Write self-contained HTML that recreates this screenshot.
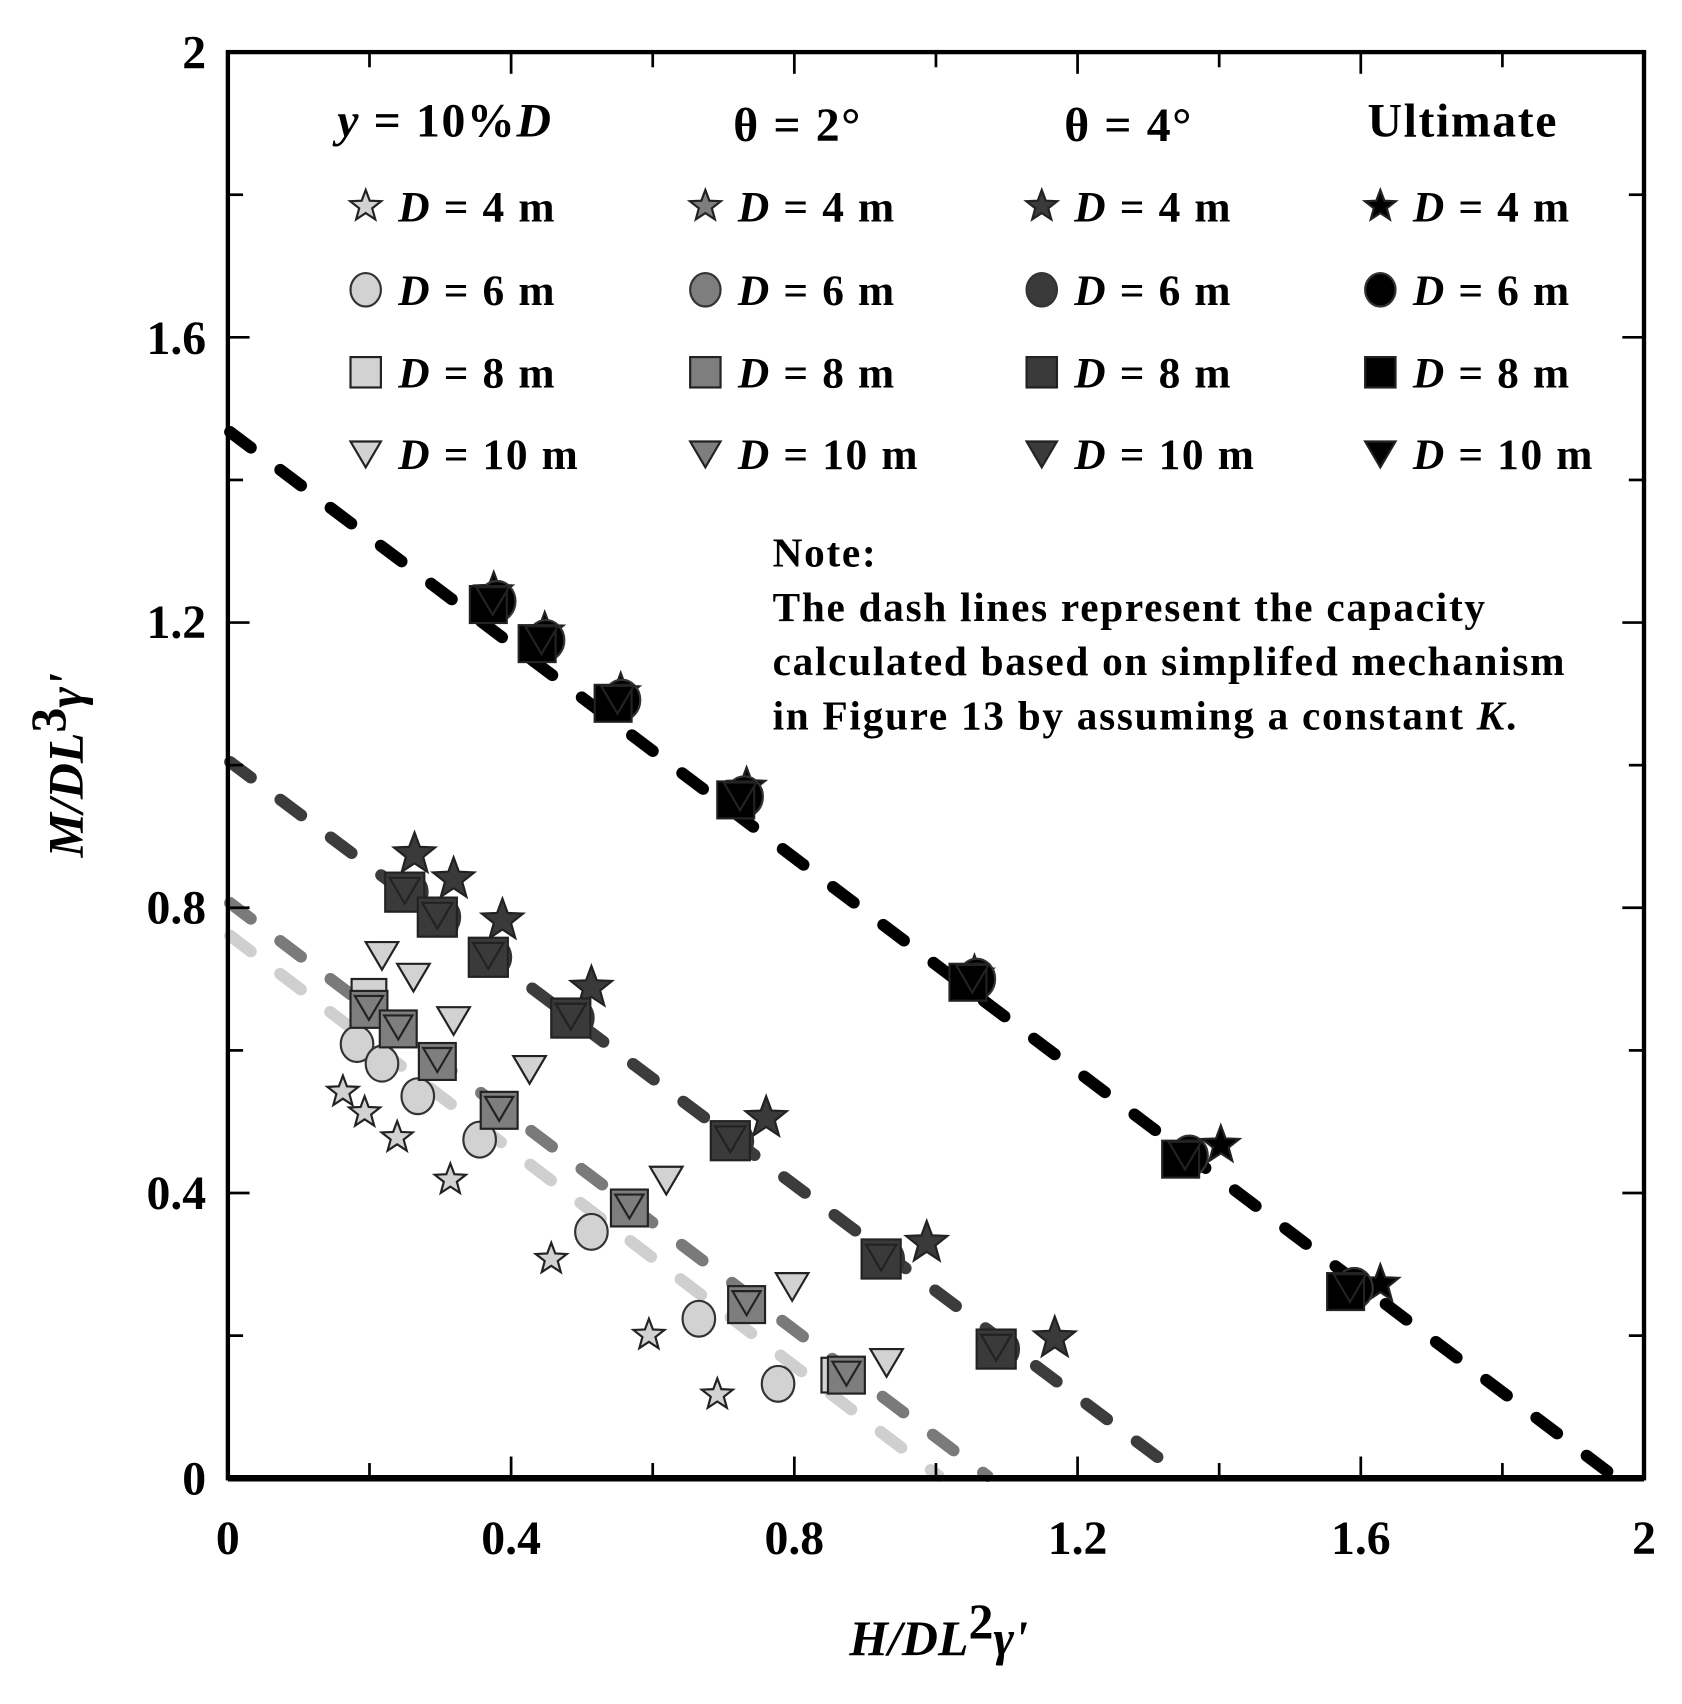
<!DOCTYPE html>
<html><head><meta charset="utf-8"><style>
html,body{margin:0;padding:0;background:#fff;width:1682px;height:1704px;overflow:hidden}
svg{display:block}
text{font-family:"Liberation Serif",serif;font-weight:bold;fill:#000}
</style></head><body>
<svg id="s" width="1682" height="1704" viewBox="0 0 1550 1570" preserveAspectRatio="none" xmlns="http://www.w3.org/2000/svg">
<g id="lines" fill="none" stroke-linecap="round" stroke-width="11" stroke-dasharray="24,34">
<line x1="212" y1="398" x2="1487" y2="1360" stroke="#000"/>
<line x1="212" y1="702" x2="1090" y2="1360" stroke="#3c3c3c"/>
<line x1="212" y1="832" x2="910" y2="1360" stroke="#7a7a7a"/>
<line x1="212" y1="862" x2="865" y2="1360" stroke="#cfcfcf"/>
</g>
<g id="marks"></g>
<g id="axes" stroke="#000">
<rect x="210" y="48" width="1305" height="1314" fill="none" stroke-width="4"/>
<line x1="210" y1="1362" x2="1515" y2="1362" stroke-width="6"/>
</g>
<g font-size="44">
<text x="210" y="1432" text-anchor="middle">0</text>
<text x="471" y="1432" text-anchor="middle">0.4</text>
<text x="732" y="1432" text-anchor="middle">0.8</text>
<text x="993" y="1432" text-anchor="middle">1.2</text>
<text x="1254" y="1432" text-anchor="middle">1.6</text>
<text x="1515" y="1432" text-anchor="middle">2</text>
<text x="190" y="1377" text-anchor="end">0</text>
<text x="190" y="1114" text-anchor="end">0.4</text>
<text x="190" y="851" text-anchor="end">0.8</text>
<text x="190" y="588" text-anchor="end">1.2</text>
<text x="190" y="326" text-anchor="end">1.6</text>
<text x="190" y="63" text-anchor="end">2</text>
</g>
<text x="865" y="1525" font-size="46" text-anchor="middle" font-style="italic">H/DL<tspan dy="-16" font-style="normal">2</tspan><tspan dy="16">γ'</tspan></text>
<text transform="translate(76,705) rotate(-90)" font-size="46" text-anchor="middle" font-style="italic">M/DL<tspan dy="-16" font-style="normal">3</tspan><tspan dy="16">γ'</tspan></text>
<g font-size="44" letter-spacing="1.5">
<text x="410" y="126" text-anchor="middle"><tspan font-style="italic">y</tspan> = 10%<tspan font-style="italic">D</tspan></text>
<text x="735" y="130" text-anchor="middle" font-weight="normal">θ = 2°</text>
<text x="1040" y="130" text-anchor="middle" font-weight="normal">θ = 4°</text>
<text x="1348" y="126" text-anchor="middle">Ultimate</text>
</g>
<g id="legtext" font-size="40" letter-spacing="1.5"></g>
<g font-size="38" letter-spacing="1.6">
<text x="712" y="522">Note:</text>
<text x="712" y="572">The dash lines represent the capacity</text>
<text x="712" y="622">calculated based on simplifed mechanism</text>
<text x="712" y="672">in Figure 13 by assuming a constant <tspan font-style="italic">K</tspan>.</text>
</g>
</svg>
<script>
var NS="http://www.w3.org/2000/svg",M=document.getElementById("marks");
function el(t,a,p){var e=document.createElementNS(NS,t);for(var k in a)e.setAttribute(k,a[k]);(p||M).appendChild(e);return e;}
function star(x,y,r,f,p){var s="";for(var i=0;i<10;i++){var rr=i%2?r*0.42:r,a=-Math.PI/2+i*Math.PI/5;s+=(i?"L":"M")+(x+rr*Math.cos(a)).toFixed(1)+","+(y+rr*Math.sin(a)).toFixed(1);}el("path",{d:s+"Z",fill:f,stroke:"#222","stroke-width":2},p);}
function circ(x,y,r,f,p){el("ellipse",{cx:x,cy:y,rx:r,ry:r*1.1,fill:f,stroke:"#333","stroke-width":2},p);}
function sq(x,y,r,f,p){el("rect",{x:x-r,y:y-r,width:2*r,height:2*r,fill:f,stroke:"#222","stroke-width":2},p);}
function tri(x,y,r,f,p){el("path",{d:"M"+(x-r)+","+(y-r*0.8)+"L"+(x+r)+","+(y-r*0.8)+"L"+x+","+(y+r*0.9)+"Z",fill:f,stroke:"#222","stroke-width":2},p);}
var L="#d2d2d2",G="#7e7e7e",DK="#3a3a3a",B="#000";
[[352,880],[381,900],[418,940],[488,985],[614,1087],[730,1185],[817,1255]].forEach(function(p){tri(p[0],p[1],15,L);});
[[340,918],[773,1267]].forEach(function(p){sq(p[0],p[1],16,L);});
[[329,962],[352,980],[385,1010],[442,1050],[545,1135],[644,1215],[717,1275]].forEach(function(p){circ(p[0],p[1],15,L);});
[[316,1006],[336,1025],[366,1048],[415,1087],[508,1160],[598,1230],[661,1285]].forEach(function(p){star(p[0],p[1],15,L);});
[[340,930],[367,948],[403,978],[460,1023],[580,1113],[688,1202],[780,1267]].forEach(function(p){sq(p[0],p[1],17,G);tri(p[0],p[1]-2,13,G);});
[[382,787],[418,810],[463,848],[545,910],[706,1030],[854,1145],[972,1233]].forEach(function(p){star(p[0],p[1],20,DK);});
[[373,822],[403,845],[450,882],[526,938],[673,1051],[812,1160],[918,1243]].forEach(function(p){circ(p[0]+5,p[1],16,DK);sq(p[0],p[1],18,DK);tri(p[0],p[1]-2,14,DK);});
[[455,545],[502,582],[572,638],[688,725],[898,898],[1125,1055],[1272,1183]].forEach(function(p){star(p[0],p[1],18,B);});
[[450,557],[495,593],[565,648],[678,737],[892,905],[1088,1068],[1240,1190]].forEach(function(p){circ(p[0]+8,p[1]-3,17,B);sq(p[0],p[1],17,B);tri(p[0]+4,p[1]-4,15,B);});
var A=document.getElementById("axes");
for(var i=1;i<10;i++){var x=210+i*130.5,y=1362-i*131.4,len=i%2?14:20;
el("line",{x1:x,y1:1362,x2:x,y2:1362-len,"stroke-width":2.5},A);el("line",{x1:x,y1:48,x2:x,y2:48+len,"stroke-width":2.5},A);
el("line",{x1:210,y1:y,x2:210+len,y2:y,"stroke-width":2.5},A);el("line",{x1:1515,y1:y,x2:1515-len,y2:y,"stroke-width":2.5},A);}
var T=document.getElementById("legtext"),cols=[[337,L],[650,G],[960,DK],[1272,B]],rows=[190,267,343,418],lab=["4","6","8","10"],fns=[star,circ,sq,tri];
cols.forEach(function(c){rows.forEach(function(ry,j){fns[j](c[0],ry,j==0?15:14,c[1],M);
var t=el("text",{x:c[0]+30,y:ry+14},T);t.innerHTML='<tspan font-style="italic">D</tspan> = '+lab[j]+' m';});});
</script>
</body></html>
